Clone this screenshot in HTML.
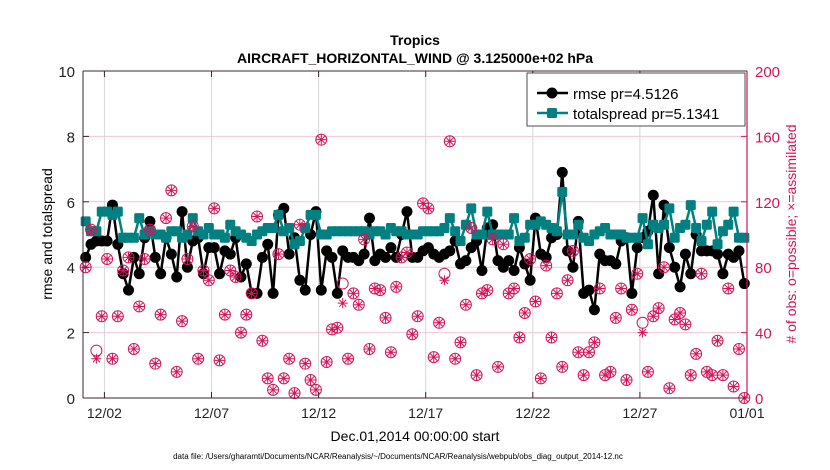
<!DOCTYPE html>
<html><head><meta charset="utf-8"><style>
body{margin:0;background:#fff;}
svg{display:block;font-family:"Liberation Sans",sans-serif;}
</style></head><body>
<svg id="chart" width="830" height="470" viewBox="0 0 830 470" xmlns="http://www.w3.org/2000/svg">
<rect width="830" height="470" fill="#fff"/>
<g id="grid"></g>
<g id="series"></g>
<g id="axes"></g>
<text x="415" y="45" text-anchor="middle" font-size="14" font-weight="bold">Tropics</text>
<text x="415" y="63" text-anchor="middle" font-size="14" font-weight="bold">AIRCRAFT_HORIZONTAL_WIND @ 3.125000e+02 hPa</text>
<text transform="translate(52,234) rotate(-90)" text-anchor="middle" font-size="14">rmse and totalspread</text>
<text transform="translate(796,234) rotate(-90)" text-anchor="middle" font-size="14" fill="#d4145a"># of obs: o=possible; ×=assimilated</text>
<text x="415" y="441" text-anchor="middle" font-size="14">Dec.01,2014 00:00:00 start</text>
<text x="398" y="459" text-anchor="middle" font-size="8">data file: /Users/gharamti/Documents/NCAR/Reanalysis/~/Documents/NCAR/Reanalysis/webpub/obs_diag_output_2014-12.nc</text>
<g>
<rect x="527" y="73" width="218" height="53" fill="#fff" stroke="#222" stroke-width="0.8"/>
<line x1="537" y1="93" x2="568" y2="93" stroke="#000" stroke-width="2.5"/>
<circle cx="552" cy="93" r="5.5" fill="#000"/>
<text x="573" y="99" font-size="15">rmse pr=4.5126</text>
<line x1="537" y1="113" x2="568" y2="113" stroke="#008080" stroke-width="2.5"/>
<rect x="547" y="108" width="10" height="10" rx="1.5" fill="#008080"/>
<text x="573" y="119" font-size="15">totalspread pr=5.1341</text>
</g>
</svg>
<script>
const rmse=[4.3,4.7,4.8,4.8,4.8,5.9,4.7,3.8,3.3,4.3,3.8,4.9,5.4,4.3,3.8,4.9,4.4,3.7,5.7,4.0,4.8,4.9,3.8,4.6,4.6,3.8,4.5,4.4,4.9,3.7,4.1,3.2,
3.2,4.3,4.7,3.2,5.6,5.8,4.4,4.9,3.6,3.3,5.0,5.7,3.3,4.5,4.3,3.2,4.5,4.3,4.3,4.2,4.4,5.5,4.2,4.4,4.3,4.6,4.3,5.0,5.7,4.3,4.3,
4.5,4.6,4.4,4.3,4.4,4.5,4.8,4.1,4.2,4.6,4.8,3.9,5.2,5.3,4.2,4.0,4.2,3.9,4.6,4.1,3.6,5.5,4.4,4.3,4.9,5.0,6.9,4.5,4.0,5.4,3.2,
3.3,2.7,4.4,4.2,4.2,4.1,4.8,4.9,3.2,4.6,4.9,5.1,6.2,3.8,5.9,4.6,4.0,3.4,4.4,3.8,5.0,4.5,4.5,4.5,4.4,3.8,4.4,4.3,4.5,3.5];
const spread=[5.4,5.1,5.1,5.7,5.7,5.6,5.7,4.9,4.9,4.9,5.5,5.0,5.1,5.0,5.0,4.9,5.1,5.1,4.9,5.0,5.5,5.1,5.0,5.2,5.0,5.0,4.9,5.3,5.1,5.0,4.9,4.8,
5.0,5.1,5.2,5.2,5.6,5.1,5.2,4.7,4.8,5.2,5.6,5.6,5.0,5.0,5.1,5.1,5.1,5.1,5.1,5.1,5.1,5.0,5.1,5.1,5.0,5.2,5.1,5.1,5.0,5.0,5.0,
5.1,5.1,5.1,5.1,5.2,5.5,5.1,4.8,5.3,5.8,5.0,5.0,5.7,5.0,5.0,5.0,5.0,5.5,4.8,4.9,5.3,5.3,5.4,5.3,5.2,5.1,6.3,5.0,5.0,5.3,4.9,
4.8,5.0,5.1,5.2,5.0,5.0,5.0,4.9,4.9,4.9,5.5,4.7,5.3,5.2,5.3,5.8,4.9,5.2,5.3,5.9,5.2,4.8,5.3,5.7,4.7,5.1,5.3,5.7,4.9,4.9];
const possible=[80,103,29,50,85,24,50,78,86,30,56,85,103,21,51,110,127,16,47,85,105,24,78,72,116,23,51,78,74,40,51,64,111,35,12,5,88,12,24,
3,106,21,11,5,158,22,42,43,70,24,64,57,97,30,67,66,49,28,68,86,89,39,50,119,116,25,46,76,157,24,34,57,104,14,64,66,97,19,94,
64,67,37,52,85,59,12,81,37,64,19,72,90,28,14,28,34,67,14,16,49,67,11,54,76,46,16,50,55,80,6,48,52,45,14,27,76,16,14,35,14,67,7,30,0];
const assimilated=[80,103,24,50,85,24,50,78,86,30,56,85,103,21,51,110,127,16,47,85,105,24,78,72,116,23,51,78,74,40,51,64,111,35,12,5,88,12,24,
3,106,21,11,5,158,22,42,43,58,24,64,57,97,30,67,66,49,28,68,86,89,39,50,119,116,25,46,72,157,24,34,57,104,14,64,66,97,19,94,
64,67,37,52,85,59,12,81,37,64,19,72,90,28,14,28,34,67,14,16,49,67,11,54,76,40,16,50,55,80,6,48,52,45,14,27,76,16,14,35,14,67,7,30,0];
const xTickDays=[1,6,11,16,21,26,31];
const xTickLabels=["12/02","12/07","12/12","12/17","12/22","12/27","01/01"];
const yTicks=[0,2,4,6,8,10];
const yRightTicks=[0,40,80,120,160,200];

const L=83,R=747,T=71,B=398,NS="http://www.w3.org/2000/svg";
const xs=d=>L+(R-L)*d/31;
const ys=v=>B-(B-T)*v/10;
const yr=v=>B-(B-T)*v/200;
const tDay=i=>0.125+0.25*i;
function mk(tag,attrs,parent){const e=document.createElementNS(NS,tag);for(const k in attrs)e.setAttribute(k,attrs[k]);parent.appendChild(e);return e;}
const grid=document.getElementById('grid'),ser=document.getElementById('series'),ax=document.getElementById('axes');
xTickDays.forEach((d,i)=>{
  const g=mk('line',{x1:xs(d),x2:xs(d),y1:T,y2:B,stroke:'#d6d6d6','stroke-width':1},grid);
  
  
  mk('line',{x1:xs(d),x2:xs(d),y1:B,y2:B-6,stroke:'#3a2430','stroke-width':1},ax);
  mk('line',{x1:xs(d),x2:xs(d),y1:T,y2:T+6,stroke:'#3a2430','stroke-width':1},ax);
  const t=mk('text',{x:xs(d),y:B+20,'text-anchor':'middle','font-size':14,fill:'#222'},ax);
  t.textContent=xTickLabels[i];
  
  
});
yRightTicks.forEach(v=>{
  if(v>0&&v<200){const g=mk('line',{x1:L,x2:R,y1:yr(v),y2:yr(v),stroke:'#f2c6d6','stroke-width':1},grid);
  
  }
  mk('line',{x1:R,x2:R-6,y1:yr(v),y2:yr(v),stroke:'#d4145a','stroke-width':1},ax);
  const t=mk('text',{x:R+8,y:yr(v)+6,'font-size':15,fill:'#d4145a'},ax);
  t.textContent=v;
  
  
});
yTicks.forEach(v=>{
  mk('line',{x1:L,x2:L+6,y1:ys(v),y2:ys(v),stroke:'#3a2430','stroke-width':1},ax);
  const t=mk('text',{x:L-8,y:ys(v)+6,'text-anchor':'end','font-size':15,fill:'#222'},ax);
  t.textContent=v;
  
  
});
mk('line',{x1:L,x2:L,y1:T,y2:B,stroke:'#3a2430','stroke-width':1},ax);
mk('line',{x1:L,x2:R,y1:B,y2:B,stroke:'#3a2430','stroke-width':1},ax);
mk('line',{x1:L,x2:R,y1:T,y2:T,stroke:'#3a2430','stroke-width':1},ax);
mk('line',{x1:R,x2:R,y1:T,y2:B,stroke:'#d4145a','stroke-width':1.2},ax);

const rl=mk('polyline',{points:rmse.map((v,i)=>xs(tDay(i))+','+ys(v)).join(' '),fill:'none',stroke:'#000','stroke-width':2.5},ser);


rmse.forEach((v,i)=>{const c=mk('circle',{cx:xs(tDay(i)),cy:ys(v),r:5.5,fill:'#000'},ser);

});
const sl=mk('polyline',{points:spread.map((v,i)=>xs(tDay(i))+','+ys(v)).join(' '),fill:'none',stroke:'#008080','stroke-width':2.5},ser);


spread.forEach((v,i)=>{const c=mk('rect',{x:xs(tDay(i))-5,y:ys(v)-5,width:10,height:10,rx:1.5,fill:'#008080'},ser);

});
possible.forEach((v,i)=>{const c=mk('circle',{cx:xs(tDay(i)),cy:yr(v),r:5.5,fill:'none',stroke:'#d4145a','stroke-width':1},ser);

});
assimilated.forEach((v,i)=>{const x=xs(tDay(i)),y=yr(v),s=5;
const d=`M${x-s},${y}H${x+s}M${x},${y-s}V${y+s}M${x-s*0.7},${y-s*0.7}L${x+s*0.7},${y+s*0.7}M${x-s*0.7},${y+s*0.7}L${x+s*0.7},${y-s*0.7}`;
const p=mk('path',{d:d,stroke:'#d4145a','stroke-width':1,fill:'none'},ser);

});
</script>
</body></html>
